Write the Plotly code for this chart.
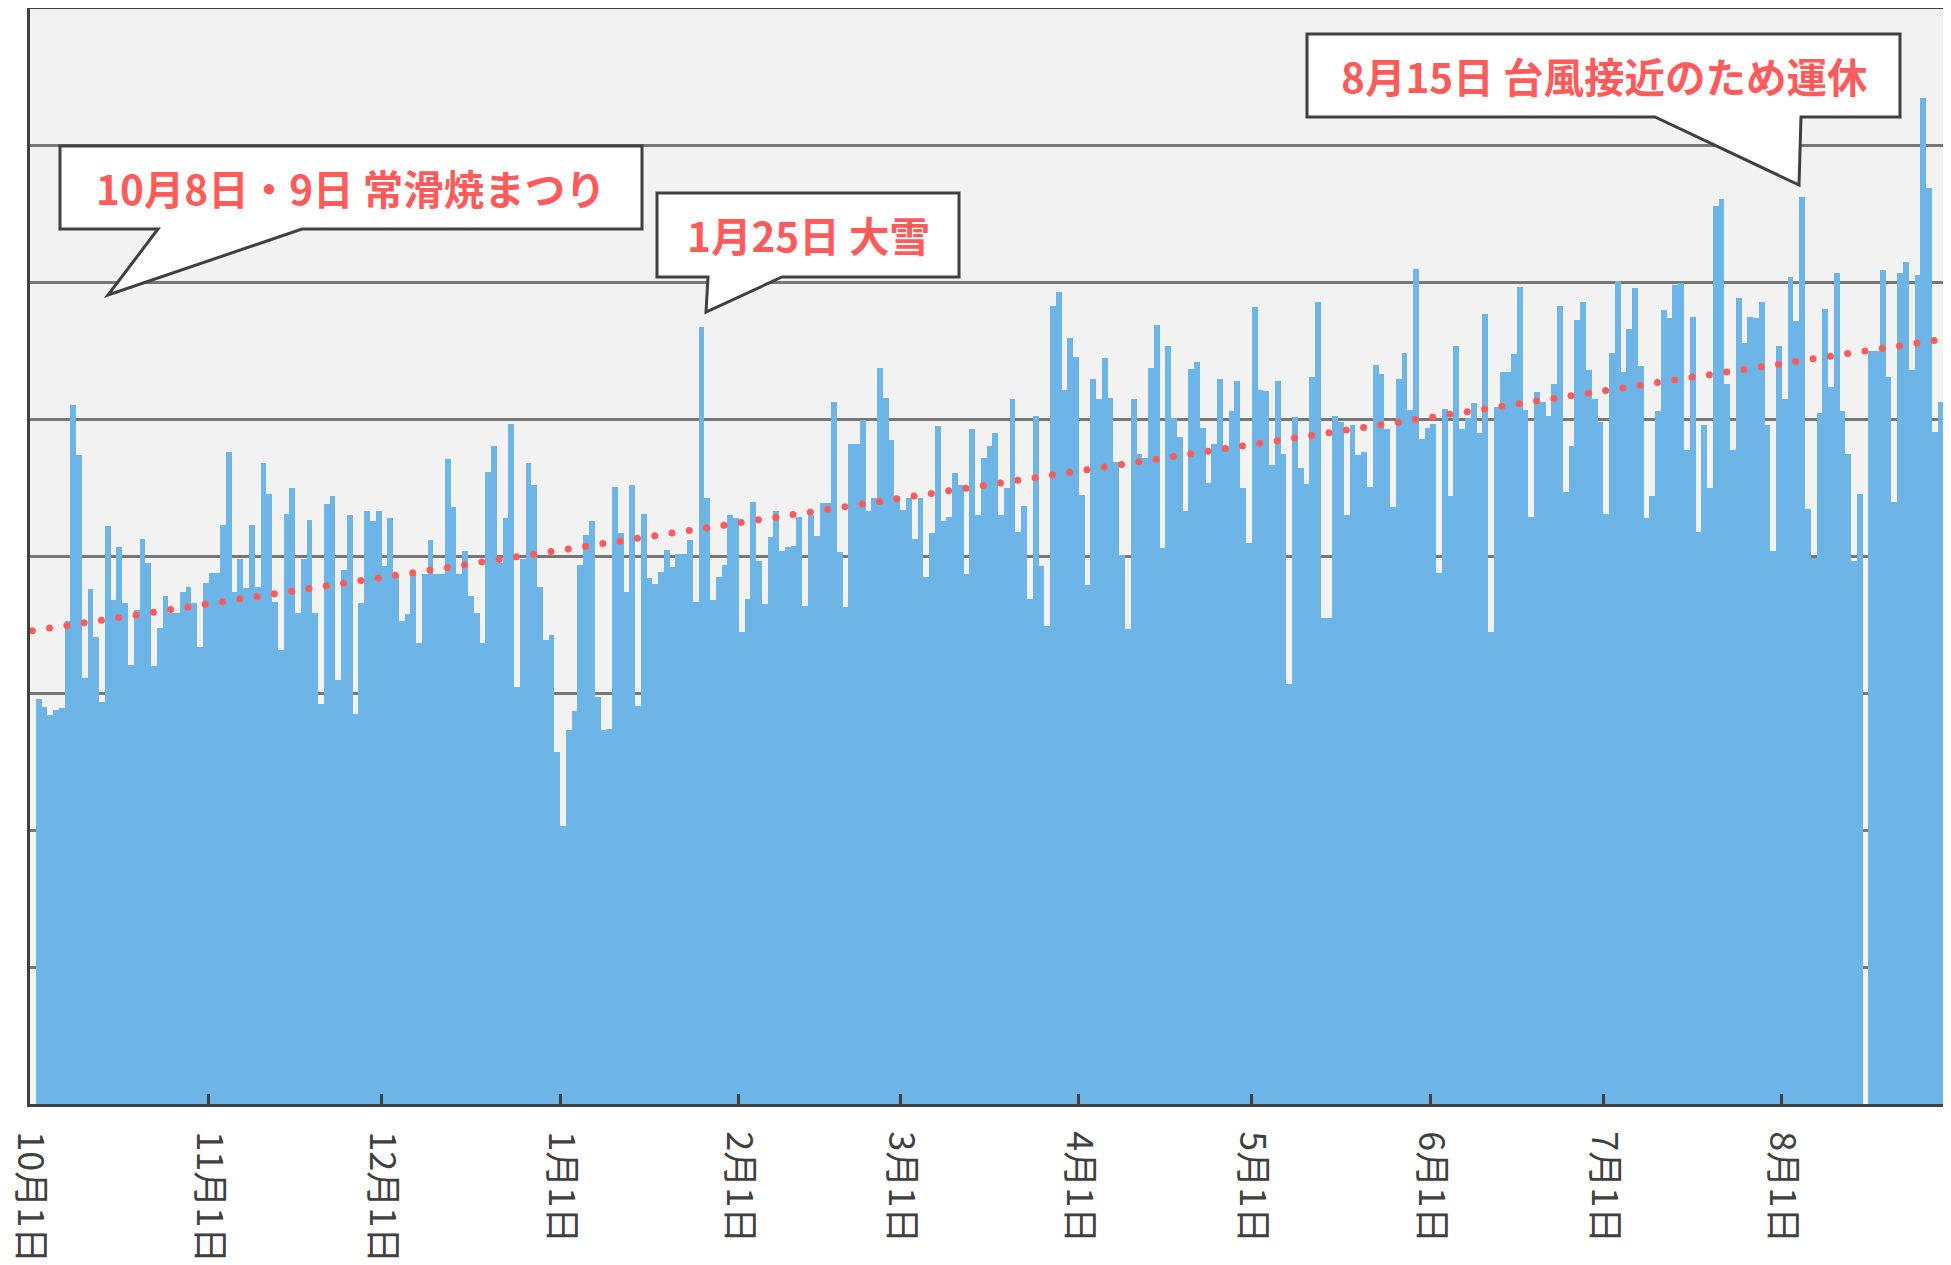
import numpy as np
import pandas as pd
import plotly.graph_objects as go

# ---------------- data ----------------
start_date = "2016-10-01"
n_days = 334
dates = pd.date_range(start_date, periods=n_days, freq="D")

# daily riders (None = no data / no service)
riders = [
    None, 296, 290, 284, 288, 289, 353, 511, 474, 311, 376, 341, 294, 422, 368, 407, 366, 321, 361, 413,
    395, 320, 348, 371, 359, 359, 374, 378, 366, 334, 381, 388, 388, 423, 476, 374, 398, 377, 423, 378,
    468, 446, 367, 332, 431, 450, 359, 398, 427, 359, 292, 438, 444, 310, 390, 430, 285, 366, 433, 426,
    433, 393, 428, 385, 353, 358, 388, 337, 387, 412, 387, 387, 471, 436, 387, 404, 371, 359, 337, 462,
    481, 395, 428, 497, 305, 398, 468, 452, 378, 339, 343, 257, 203, 273, 287, 394, 416, 426, 297, 273,
    274, 451, 417, 374, 452, 291, 431, 384, 380, 389, 405, 392, 402, 402, 412, 367, 568, 443, 368, 385,
    394, 430, 428, 345, 369, 440, 397, 365, 414, 433, 404, 407, 408, 429, 364, 430, 415, 439, 439, 513,
    403, 363, 482, 482, 500, 433, 443, 538, 516, 485, 444, 434, 443, 413, 443, 385, 417, 495, 426, 429,
    461, 452, 387, 493, 430, 472, 481, 490, 430, 450, 515, 418, 437, 369, 503, 393, 349, 583, 593, 522,
    560, 546, 445, 379, 530, 515, 545, 516, 469, 401, 347, 515, 475, 472, 538, 569, 406, 554, 501, 487,
    433, 537, 542, 494, 454, 482, 530, 481, 506, 528, 450, 410, 582, 522, 521, 467, 528, 475, 307, 502,
    465, 453, 531, 586, 355, 355, 503, 498, 430, 496, 474, 476, 451, 540, 533, 493, 436, 530, 549, 507,
    610, 486, 494, 497, 388, 508, 444, 554, 493, 501, 512, 490, 577, 345, 509, 535, 535, 548, 597, 507,
    429, 520, 513, 503, 526, 583, 447, 481, 573, 586, 536, 515, 498, 431, 549, 601, 535, 566, 596, 539,
    428, 444, 506, 580, 574, 598, 600, 478, 575, 418, 496, 450, 656, 661, 526, 478, 589, 556, 575, 574,
    586, 496, 404, 554, 515, 604, 572, 663, 435, 399, 505, 581, 524, 607, 506, 475, 397, 446, None, 550,
    550, 609, 531, 440, 607, 615, 536, 606, 735, 669, 491, 513, 602, 573,
]

month_ticks = ["2016-10-01", "2016-11-01", "2016-12-01", "2017-01-01", "2017-02-01", "2017-03-01",
               "2017-04-01", "2017-05-01", "2017-06-01", "2017-07-01", "2017-08-01"]
month_labels = ["10月1日", "11月1日", "12月1日", "1月1日", "2月1日", "3月1日",
                "4月1日", "5月1日", "6月1日", "7月1日", "8月1日"]

callout_texts = ["10月8日・9日 常滑焼まつり", "1月25日 大雪", "8月15日 台風接近のため運休"]

# ---------------- styling / layout constants ----------------
W, H = 1951, 1265
BODY = 8                      # page offset of the figure (default body margin)
PAGE_L, PAGE_T, PAGE_B = 30, 9, 1104   # plot area on the page
M_L, M_T = PAGE_L - BODY, PAGE_T - BODY
M_B = H - (PAGE_B - BODY)
PLOT_W = W - M_L
PLOT_H = PAGE_B - PAGE_T
PX_PER_DAY = 5.763
DAYS_RANGE = PLOT_W / PX_PER_DAY

BAR_COLOR = "#6DB5E7"
TREND_COLOR = "#FF5B5B"
AXIS_COLOR = "#404040"
GRID_COLOR = "#777777"
FONT = "Noto Sans CJK JP"

# callout geometry in page pixels: box (x0, y0, x1, y1), tail base xs, tail tip
callout_geom = [
    dict(box=(60, 146, 642, 229), base=(158, 302), tip=(108, 295)),
    dict(box=(657, 193, 959, 277), base=(708, 782), tip=(706, 312)),
    dict(box=(1307, 34, 1900, 117), base=(1655, 1801), tip=(1799, 185)),
]


def pxx(x):
    return (x - PAGE_L) / PLOT_W


def pxy(y):
    return (PAGE_B - y) / PLOT_H


# ---------------- figure ----------------
bar_x = dates + pd.Timedelta(hours=12)
fig = go.Figure()
fig.add_trace(go.Bar(
    x=bar_x, y=riders, width=86400000,
    marker=dict(color=BAR_COLOR, line=dict(width=0)),
    showlegend=False, hoverinfo="x+y",
))

# linear trend fitted to the data (like a spreadsheet trendline)
t_days = np.arange(n_days) + 0.5
vals = np.array([np.nan if v is None else v for v in riders], dtype=float)
ok = ~np.isnan(vals)
slope, intercept = np.polyfit(t_days[ok], vals[ok], 1)
t_dots = np.arange(0.4, DAYS_RANGE + 1, 3.0)
trend_x = pd.Timestamp(start_date) + pd.to_timedelta(t_dots, unit="D")
trend_y = intercept + slope * t_dots
fig.add_trace(go.Scatter(
    x=trend_x, y=trend_y, mode="markers",
    marker=dict(color=TREND_COLOR, size=7, line=dict(width=0)),
    showlegend=False, hoverinfo="skip", cliponaxis=True,
))

shapes = []
annotations = []
for geom, text in zip(callout_geom, callout_texts):
    x0, y0, x1, y1 = geom["box"]
    bl, br = geom["base"]
    tx, ty = geom["tip"]
    pts = [(x0, y0), (x1, y0), (x1, y1), (br, y1), (tx, ty), (bl, y1), (x0, y1)]
    path = "M " + " L ".join(f"{pxx(a):.5f},{pxy(b):.5f}" for a, b in pts) + " Z"
    shapes.append(dict(type="path", xref="paper", yref="paper", path=path,
                       fillcolor="white", line=dict(color=AXIS_COLOR, width=3), layer="above"))
    annotations.append(dict(
        xref="paper", yref="paper", x=pxx((x0 + x1) / 2), y=pxy((y0 + y1) / 2),
        text=text, showarrow=False, xanchor="center", yanchor="middle",
        font=dict(family=FONT, size=40.5, color=TREND_COLOR, weight="bold"),
    ))

x_end = pd.Timestamp(start_date) + pd.Timedelta(days=DAYS_RANGE)

fig.update_layout(
    width=W, height=H,
    margin=dict(l=M_L, r=0, t=M_T, b=M_B, autoexpand=False),
    paper_bgcolor="white", plot_bgcolor="#F2F2F2",
    bargap=0, shapes=shapes, annotations=annotations,
    font=dict(family=FONT, color=AXIS_COLOR),
    xaxis=dict(
        type="date", range=[pd.Timestamp(start_date), x_end],
        tickmode="array", tickvals=month_ticks, ticktext=month_labels,
        tickangle=90, ticks="inside", ticklen=10, tickwidth=3, tickcolor=AXIS_COLOR,
        showline=True, linecolor=AXIS_COLOR, linewidth=3, mirror=True,
        showgrid=False, zeroline=False, automargin=False,
        tickfont=dict(family=FONT, size=36, color=AXIS_COLOR),
        ticklabelstandoff=17,
    ),
    yaxis=dict(
        range=[0, 800], dtick=100, showticklabels=False, ticks="",
        showgrid=True, gridcolor=GRID_COLOR, gridwidth=2.5, automargin=False,
        showline=True, linecolor=AXIS_COLOR, linewidth=3, zeroline=False,
    ),
)

fig.write_html("out.html")
